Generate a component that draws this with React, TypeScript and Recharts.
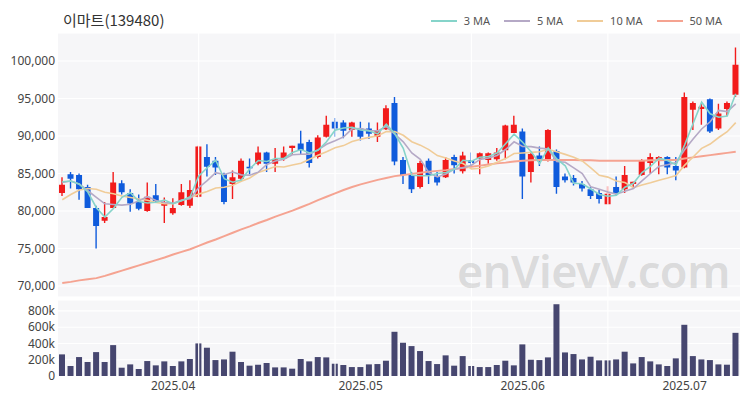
import { ComposedChart, BarChart, Bar, Line, XAxis, YAxis, CartesianGrid, ReferenceLine } from "recharts";

// trading days, 2025.03.13 ~ 2025.07.09
const DATES = [
  "2025.03.13", "2025.03.14", "2025.03.17", "2025.03.18", "2025.03.19", "2025.03.20", "2025.03.21",
  "2025.03.24", "2025.03.25", "2025.03.26", "2025.03.27", "2025.03.28", "2025.03.31",
  "2025.04.01", "2025.04.02", "2025.04.03", "2025.04.04", "2025.04.07", "2025.04.08", "2025.04.09",
  "2025.04.10", "2025.04.11", "2025.04.14", "2025.04.15", "2025.04.16", "2025.04.17", "2025.04.18",
  "2025.04.21", "2025.04.22", "2025.04.23", "2025.04.24", "2025.04.25", "2025.04.28", "2025.04.29",
  "2025.04.30",
  "2025.05.02", "2025.05.07", "2025.05.08", "2025.05.09", "2025.05.12", "2025.05.13", "2025.05.14",
  "2025.05.15", "2025.05.16", "2025.05.19", "2025.05.20", "2025.05.21", "2025.05.22", "2025.05.23",
  "2025.05.26", "2025.05.27", "2025.05.28", "2025.05.29", "2025.05.30",
  "2025.06.02", "2025.06.04", "2025.06.05", "2025.06.09", "2025.06.10", "2025.06.11", "2025.06.12",
  "2025.06.13", "2025.06.16", "2025.06.17", "2025.06.18", "2025.06.19", "2025.06.20", "2025.06.23",
  "2025.06.24", "2025.06.25", "2025.06.26", "2025.06.27", "2025.06.30",
  "2025.07.01", "2025.07.02", "2025.07.03", "2025.07.04", "2025.07.07", "2025.07.08", "2025.07.09",
];

const OPEN = [
  82400, 84900, 84800, 83200, 80400, 78700, 80400, 83700, 82400, 81200,
  80000, 82100, 80700, 79700, 80800, 80700, 81900, 87200, 86700, 84900,
  83600, 84300, 85900, 86300, 87800, 86300, 87000, 88400, 89000, 89200,
  87200, 89900, 91900, 91800, 90800, 91000, 91000, 89900, 90900, 94400,
  86800, 84800, 83200, 86700, 84600, 84500, 87200, 85300, 86800, 87000,
  86800, 86900, 88100, 90400, 90600, 85200, 87400, 86700, 88000, 84600,
  84400, 83600, 82900, 82400, 80900, 83200, 82900, 83600, 84800, 86400,
  86900, 87200, 86000, 85800, 93500, 93600, 94900, 91000, 93600, 95500,
];
const HIGH = [
  84500, 85200, 85000, 83500, 80700, 81200, 85200, 84100, 82900, 82200,
  83800, 83600, 81800, 81700, 83600, 84100, 88700, 88900, 87200, 85100,
  85400, 87000, 87000, 88600, 87900, 88400, 88600, 88700, 90700, 89500,
  90100, 92700, 92400, 92100, 91900, 91900, 91800, 91800, 94100, 95200,
  87200, 85200, 86700, 87000, 85200, 87200, 87500, 87900, 87800, 87800,
  87800, 88400, 91500, 92700, 91000, 87900, 88600, 90900, 88200, 85000,
  84800, 84000, 83200, 82800, 83300, 84600, 86000, 83900, 86900, 87700,
  87300, 87300, 87200, 95800, 94600, 94300, 95000, 94300, 94600, 101800,
];
const LOW = [
  82000, 83000, 81500, 80400, 75000, 78400, 80400, 82200, 79900, 80100,
  79900, 81200, 78400, 79500, 80700, 80400, 81800, 84600, 84800, 80900,
  81600, 84100, 84900, 86100, 85200, 85200, 86700, 87500, 87500, 85800,
  87000, 89800, 89900, 89700, 89900, 89400, 89600, 89200, 90800, 86100,
  83600, 82400, 83000, 83600, 83400, 84400, 85000, 85000, 85900, 84900,
  86300, 86700, 86900, 90400, 81600, 83800, 86000, 86600, 82300, 83800,
  83400, 82600, 81600, 81000, 80900, 82000, 82400, 83000, 84700, 85000,
  84900, 84900, 84100, 85700, 90800, 91500, 90400, 90800, 92700, 95200,
];
const CLOSE = [
  83500, 84300, 82900, 80400, 78000, 79200, 83800, 82500, 81000, 80300,
  81900, 81300, 81200, 80400, 82500, 82800, 88600, 85900, 85800, 81200,
  84500, 86700, 85700, 87800, 86300, 86900, 87800, 88700, 88100, 86400,
  89800, 91500, 91000, 90700, 91800, 89900, 90300, 90700, 93700, 86600,
  84800, 82900, 86400, 84800, 83800, 86800, 86100, 87400, 86400, 87700,
  87700, 87800, 91400, 91500, 84600, 87600, 86800, 90800, 83200, 84100,
  83800, 83000, 82000, 81600, 82300, 82400, 84800, 83900, 86700, 87200,
  87200, 85800, 85400, 95200, 94400, 93900, 90600, 93000, 94400, 99500,
];
const VOLUME = [
  266000, 123000, 233000, 172000, 294000, 172000, 380000, 102000, 143000, 86000,
  184000, 131000, 180000, 123000, 180000, 209000, 401000, 348000, 196000, 204000,
  299000, 172000, 127000, 139000, 160000, 106000, 106000, 90000, 209000, 180000,
  233000, 229000, 151000, 135000, 110000, 110000, 143000, 147000, 188000, 544000,
  409000, 368000, 307000, 184000, 147000, 254000, 127000, 245000, 123000, 110000,
  110000, 135000, 188000, 131000, 389000, 200000, 196000, 229000, 883000, 290000,
  270000, 204000, 237000, 192000, 192000, 204000, 299000, 155000, 233000, 180000,
  143000, 123000, 217000, 630000, 245000, 204000, 196000, 143000, 139000, 531000,
];

const MA3 = [
  83900, 84000, 83567, 82533, 80433, 79200, 80333, 81833, 82433, 81267,
  81067, 81167, 81467, 80967, 81367, 81900, 84633, 85767, 86767, 84300,
  83833, 84133, 85633, 86733, 86600, 87000, 87000, 87800, 88200, 87733,
  88100, 89233, 90767, 91067, 91167, 90800, 90667, 90300, 91567, 90333,
  88367, 84767, 84700, 84700, 85000, 85133, 85567, 86767, 86633, 87167,
  87267, 87733, 88967, 90233, 89167, 87900, 86333, 88400, 86933, 86033,
  83700, 83633, 82933, 82200, 81967, 82100, 83167, 83700, 85133, 85933,
  87033, 86733, 86133, 88800, 91667, 94500, 92967, 92500, 92667, 95633,
];
const MA5 = [
  83800, 84000, 83600, 82700, 81820, 80960, 80860, 80780, 80900, 81360,
  81900, 81400, 81140, 81020, 81460, 81640, 83100, 84040, 85120, 84860,
  85200, 84820, 84780, 85180, 86200, 86680, 86900, 87500, 87560, 87580,
  88160, 88900, 89360, 89880, 90960, 90980, 90740, 90680, 91280, 90240,
  89220, 87740, 86880, 85100, 84540, 84940, 85580, 85780, 86100, 86880,
  87060, 87400, 88200, 89220, 88600, 88580, 88380, 88260, 86600, 86500,
  85740, 84980, 83220, 82900, 82540, 82260, 82620, 83000, 84020, 85000,
  85960, 86160, 86460, 88160, 89600, 90940, 91900, 93420, 93260, 94280,
];
const MA10 = [
  81500, 82200, 82800, 83000, 82900, 82500, 82300, 82000, 81800, 81590,
  81430, 81130, 80960, 80960, 81410, 81770, 82250, 82590, 83070, 83160,
  83420, 83960, 84410, 85150, 85530, 85940, 85860, 86140, 86370, 86890,
  87420, 87900, 88430, 88720, 89270, 89570, 89820, 90020, 90580, 90600,
  90100, 89240, 88780, 88190, 87390, 87080, 86660, 86330, 85600, 85710,
  86000, 86490, 86990, 87660, 87740, 87820, 87890, 88230, 87910, 87550,
  87160, 86680, 85740, 84750, 84520, 84000, 83800, 83110, 83460, 83770,
  84110, 84390, 84730, 86090, 87200, 88350, 88930, 89800, 90570, 91780,
];
const MA50 = [
  70400, 70550, 70750, 70900, 71050, 71350, 71700, 72050, 72400, 72750,
  73100, 73450, 73800, 74200, 74550, 74900, 75350, 75800, 76200, 76650,
  77100, 77550, 77950, 78400, 78800, 79250, 79650, 80050, 80500, 80950,
  81450, 81900, 82350, 82800, 83200, 83550, 83850, 84150, 84400, 84650,
  84800, 84950, 85100, 85250, 85350, 85450, 85600, 85750, 85900, 86050,
  86200, 86350, 86450, 86600, 86700, 86750, 86800, 86800, 86800, 86800,
  86800, 86750, 86750, 86700, 86700, 86700, 86700, 86700, 86700, 86750,
  86750, 86800, 86800, 87000, 87150, 87300, 87450, 87600, 87750, 87900,
];

const PRICE_TICKS = [70000, 75000, 80000, 85000, 90000, 95000, 100000];
const VOLUME_TICKS = [0, 200000, 400000, 600000, 800000];
const MONTH_TICKS = ["2025.04.01", "2025.05.02", "2025.06.02", "2025.07.01"];
const GRID_DATES = [DATES[16], DATES[32], DATES[48], DATES[64]];

const UP = "#f21b1b";
const DOWN = "#0f5bdc";
const PANEL = "#f6f6f8";
const TICK_STYLE = { fontSize: 12, fill: "#444", fontFamily: "'Noto Sans', sans-serif" };

const MA_SERIES = [
  { key: "ma3", name: "3 MA", color: "#86d4ca" },
  { key: "ma5", name: "5 MA", color: "#b5a9c6" },
  { key: "ma10", name: "10 MA", color: "#f0cc98" },
  { key: "ma50", name: "50 MA", color: "#f5a391" },
];

const rows = DATES.map((date, i) => ({
  date,
  open: OPEN[i],
  high: HIGH[i],
  low: LOW[i],
  close: CLOSE[i],
  range: [LOW[i], HIGH[i]],
  volume: VOLUME[i],
  ma3: MA3[i],
  ma5: MA5[i],
  ma10: MA10[i],
  ma50: MA50[i],
}));

function Candle(props: any) {
  const { x, y, width, height, payload } = props;
  if (!payload) return null;
  const { open, close, high, low } = payload;
  const top = Math.min(y, y + height);
  const bottom = Math.max(y, y + height);
  const ppu = (bottom - top) / (high - low || 1);
  const bodyTop = top + (high - Math.max(open, close)) * ppu;
  const bodyBottom = top + (high - Math.min(open, close)) * ppu;
  const cx = x + width / 2;
  const color = close >= open ? UP : DOWN;
  return (
    <g>
      <line x1={cx} x2={cx} y1={top} y2={bottom} stroke={color} strokeWidth={1.4} />
      <rect x={x} y={bodyTop} width={width} height={Math.max(bodyBottom - bodyTop, 1.6)} fill={color} />
    </g>
  );
}

const fmtPrice = (v: number) => v.toLocaleString("en-US");
const fmtVol = (v: number) => (v === 0 ? "0" : `${v / 1000}k`);

export default function App() {
  return (
    <div style={{ position: "absolute", left: 0, top: 0, width: 750, height: 400, background: "#fff", overflow: "hidden" }}>
      <div
        style={{
          position: "absolute",
          left: 63,
          top: 9,
          fontSize: 15,
          color: "#333",
          fontFamily: "'Noto Sans CJK KR', sans-serif",
        }}
      >
        이마트(139480)
      </div>
      <div
        style={{
          position: "absolute",
          right: 28,
          top: 13,
          display: "flex",
          alignItems: "center",
          gap: 14,
          fontSize: 11,
          color: "#555",
          fontFamily: "'Noto Sans', sans-serif",
        }}
      >
        {MA_SERIES.map((s) => (
          <div key={s.key} style={{ display: "flex", alignItems: "center", gap: 7 }}>
            <span style={{ display: "inline-block", width: 26, height: 2, background: s.color }} />
            <span>{s.name}</span>
          </div>
        ))}
      </div>

      <div style={{ position: "absolute", left: 0, top: 0 }}>
        <ComposedChart width={750} height={300} data={rows} margin={{ top: 33, right: 10, bottom: 3, left: 0 }}>
          <CartesianGrid fill={PANEL} stroke="#ffffff" strokeWidth={1.2} vertical={false} />
          <XAxis dataKey="date" hide />
          <YAxis
            domain={[68533, 103733]}
            ticks={PRICE_TICKS}
            interval={0}
            allowDataOverflow
            width={58}
            axisLine={false}
            tickLine={false}
            tickSize={0}
            tickMargin={3}
            tick={TICK_STYLE}
            tickFormatter={fmtPrice}
          />
          {GRID_DATES.map((d) => (
            <ReferenceLine key={d} x={d} stroke="#ffffff" strokeWidth={1.2} />
          ))}
          <Bar dataKey="range" shape={<Candle />} barSize={6} isAnimationActive={false} />
          {[...MA_SERIES].reverse().map((s) => (
            <Line
              key={s.key}
              type="linear"
              dataKey={s.key}
              stroke={s.color}
              strokeWidth={s.key === "ma50" ? 2 : 1.6}
              dot={false}
              activeDot={false}
              isAnimationActive={false}
            />
          ))}
        </ComposedChart>
      </div>

      <div style={{ position: "absolute", left: 0, top: 300 }}>
        <BarChart width={750} height={100} data={rows} margin={{ top: 0, right: 10, bottom: 0, left: 0 }}>
          <CartesianGrid fill={PANEL} stroke="#ffffff" strokeWidth={1.2} vertical={false} />
          <XAxis
            dataKey="date"
            ticks={MONTH_TICKS}
            interval={0}
            height={24}
            axisLine={false}
            tickLine={false}
            tickSize={0}
            tickMargin={5}
            tick={TICK_STYLE}
            tickFormatter={(d: string) => d.slice(0, 7)}
          />
          <YAxis
            domain={[0, 935000]}
            ticks={VOLUME_TICKS}
            interval={0}
            width={58}
            axisLine={false}
            tickLine={false}
            tickSize={0}
            tickMargin={3}
            tick={TICK_STYLE}
            tickFormatter={fmtVol}
          />
          {GRID_DATES.map((d) => (
            <ReferenceLine key={d} x={d} stroke="#ffffff" strokeWidth={1.2} />
          ))}
          <Bar dataKey="volume" fill="#46466f" barSize={6} isAnimationActive={false} />
        </BarChart>
      </div>

      <div
        style={{
          position: "absolute",
          left: 457,
          top: 240,
          fontSize: 45,
          fontWeight: 600,
          color: "rgba(150,150,150,0.3)",
          fontFamily: "'Noto Sans', sans-serif",
          pointerEvents: "none",
          letterSpacing: -0.5,
        }}
      >
        enVievV.com
      </div>
    </div>
  );
}
